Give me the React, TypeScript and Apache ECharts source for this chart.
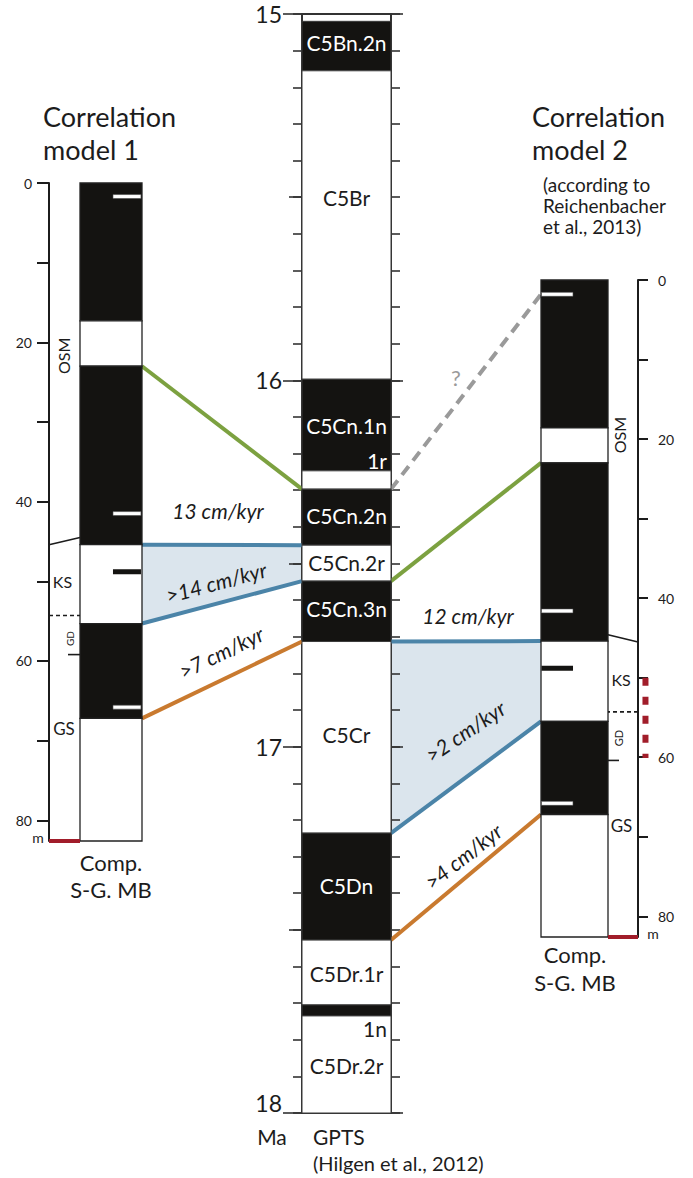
import React, { useEffect, useRef } from 'react';
import * as echarts from 'echarts';

const FONT = 'Lato, "Open Sans", "DejaVu Sans", sans-serif';
const BLACK = '#141311';
const INK = '#1c1c1c';
const GREEN = '#7ca140';
const ORANGE = '#c97a2f';
const BLUE = '#4b84a8';
const BAND = '#dbe5ed';
const GREY = '#9a9a9a';
const RED = '#a11d2a';

// ---------------- data ----------------
// GPTS (Ma)
const gptsAxisMin = 15;
const gptsAxisMax = 18;
const gptsIntegerTicks = [15, 16, 17, 18];
const gptsHalfTicks = [15.5, 16.5, 17.5];
const chronLabels = ['C5Bn.2n', 'C5Br', 'C5Cn.1n', '1r', 'C5Cn.2n', 'C5Cn.2r', 'C5Cn.3n', 'C5Cr', 'C5Dn', 'C5Dr.1r', '1n', 'C5Dr.2r'];
const chronTops = [15.02, 15.155, 15.997, 16.247, 16.297, 16.45, 16.548, 16.713, 17.236, 17.528, 17.705, 17.735];
const chronBases = [15.155, 15.997, 16.247, 16.297, 16.45, 16.548, 16.713, 17.236, 17.528, 17.705, 17.735, 18.0];
const chronNormal = [1, 0, 1, 0, 1, 0, 1, 0, 1, 0, 1, 0];
const chronLabelAges = [15.079, 15.5, 16.122, 16.218, 16.368, 16.496, 16.622, 16.968, 17.378, 17.618, 17.768, 17.869];
const chronLabelAside = [0, 0, 0, 1, 0, 0, 0, 0, 0, 0, 1, 0];

// composite section (m)
const depthTicks = [0, 10, 20, 30, 40, 50, 60, 70, 80];
const depthLabels = [0, 20, 40, 60, 80];
const sectionBase = 82.6;

const model1ZoneTops = [0, 17.3, 23.0, 45.4, 55.3, 67.2];
const model1ZoneBases = [17.3, 23.0, 45.4, 55.3, 67.2, 82.6];
const model2ZoneTops = [0, 18.6, 23.0, 45.4, 55.5, 67.2];
const model2ZoneBases = [18.6, 23.0, 45.4, 55.5, 67.2, 82.6];
const zoneNormal = [1, 0, 1, 0, 1, 0];

const model1SampleDepths = [1.7, 41.5, 65.8, 48.8];
const model2SampleDepths = [1.8, 41.6, 65.8, 48.8];
const sampleReversed = [1, 1, 1, 0];

const formationNames = ['OSM', 'KS', 'GD', 'GS'];
const model1FormationDepths = [21.7, 50.0, 57.2, 68.5];
const model2FormationDepths = [19.5, 50.2, 57.6, 68.6];

const boundaryNames = ['OSM/KS', 'KS/GD', 'GD/GS'];
const model1BoundaryAxisDepths = [45.4, 54.3, 59.2];
const model1BoundaryColumnDepths = [44.5, 54.3, 59.2];
const model2BoundaryAxisDepths = [45.5, 54.3, 60.4];
const model2BoundaryColumnDepths = [44.6, 54.3, 60.4];
const model2RedInterval = [50.0, 60.1];

// correlations
const model1TieDepths = [23.0, 67.2];
const model1TieAges = [16.297, 16.713];
const model1BandDepths = [45.4, 55.3];
const model1BandAges = [16.45, 16.548];
const model2TieDepths = [1.8, 23.0, 67.2];
const model2TieAges = [16.297, 16.548, 17.528];
const model2BandDepths = [45.4, 55.5];
const model2BandAges = [16.713, 17.236];

const rateLabels = ['13 cm/kyr', '>14 cm/kyr', '>7 cm/kyr', '12 cm/kyr', '>2 cm/kyr', '>4 cm/kyr'];

// ---------------- layout ----------------
const LEFT_COL_X0 = 31 / 93; // formation strip | column split (left model)
const RIGHT_COL_X1 = 67 / 97; // column | strip split (right model)
const LEFT_SAMPLE_X = [0.688, 0.989];
const RIGHT_SAMPLE_X = [0.005, 0.33];
const LEFT_FORM_X = [0.161, 0.145, 0.226, 0.161];
const RIGHT_FORM_X = [0.814, 0.825, 0.794, 0.83];
const FORM_VERTICAL = [1, 0, 1, 0];
const LEFT_FORM_SIZE = [16, 16, 10, 17];
const RIGHT_FORM_SIZE = [16, 16, 11, 17];
const LEFT_TICK_X = 0.204;
const RIGHT_TICK_X = 0.804;
const RED_DASH_X = 1.077;
const RATE_POS: number[][] = [
  [218, 510, 0],
  [216, 582, 15],
  [221, 652, 26],
  [468, 615, 0],
  [465, 731, 34],
  [463, 856, 38],
];

const txt = (
  text: string,
  x: number,
  y: number,
  size: number,
  opts: { align?: string; color?: string; italic?: boolean; rot?: number; vAlign?: string } = {}
) => ({
  type: 'text',
  x,
  y,
  rotation: ((opts.rot || 0) * Math.PI) / 180,
  z: 20,
  silent: true,
  style: {
    text,
    fill: opts.color || INK,
    font: `${opts.italic ? 'italic ' : ''}${size}px ${FONT}`,
    align: opts.align || 'left',
    textAlign: opts.align || 'left',
    verticalAlign: opts.vAlign || 'middle',
    textVerticalAlign: opts.vAlign || 'middle',
  },
});

const rectBetween = (a: number[], b: number[]) => ({
  x: Math.min(a[0], b[0]),
  y: Math.min(a[1], b[1]),
  width: Math.abs(b[0] - a[0]),
  height: Math.abs(b[1] - a[1]),
});

function zoneSeries(xIdx: number, yIdx: number, tops: number[], bases: number[], x0: number, x1: number) {
  return {
    type: 'custom',
    xAxisIndex: xIdx,
    yAxisIndex: yIdx,
    silent: true,
    z: 3,
    data: tops.map((t, i) => [t, bases[i]]),
    renderItem: (params: any, api: any) => {
      const i = params.dataIndex;
      const a = api.coord([x0, tops[i]]);
      const b = api.coord([x1, bases[i]]);
      return {
        type: 'rect',
        shape: rectBetween(a, b),
        style: { fill: zoneNormal[i] ? BLACK : '#ffffff', stroke: '#222', lineWidth: 1.3 },
      };
    },
  };
}

function sampleSeries(xIdx: number, yIdx: number, depths: number[], xr: number[]) {
  return {
    type: 'custom',
    xAxisIndex: xIdx,
    yAxisIndex: yIdx,
    silent: true,
    z: 4,
    data: depths.map((d) => [d]),
    renderItem: (params: any, api: any) => {
      const i = params.dataIndex;
      const a = api.coord([xr[0], depths[i]]);
      const b = api.coord([xr[1], depths[i]]);
      const rev = sampleReversed[i] === 1;
      const h = rev ? 4 : 5;
      return {
        type: 'rect',
        shape: { x: a[0], y: a[1] - h / 2, width: b[0] - a[0], height: h },
        style: rev ? { fill: '#ffffff', stroke: '#444', lineWidth: 0.6 } : { fill: BLACK },
      };
    },
  };
}

function formationSeries(xIdx: number, yIdx: number, depths: number[], xs: number[], sizes: number[]) {
  return {
    type: 'custom',
    xAxisIndex: xIdx,
    yAxisIndex: yIdx,
    silent: true,
    z: 4,
    data: depths.map((d) => [d]),
    renderItem: (params: any, api: any) => {
      const i = params.dataIndex;
      const p = api.coord([xs[i], depths[i]]);
      return {
        type: 'text',
        x: p[0],
        y: p[1],
        rotation: FORM_VERTICAL[i] ? Math.PI / 2 : 0,
        style: {
          text: formationNames[i],
          fill: INK,
          font: `${sizes[i]}px ${FONT}`,
          align: 'center',
          textAlign: 'center',
          verticalAlign: 'middle',
          textVerticalAlign: 'middle',
        },
      };
    },
  };
}

function boundarySeries(
  xIdx: number,
  yIdx: number,
  axisDepths: number[],
  colDepths: number[],
  axisX: number,
  colX: number,
  tickX: number
) {
  return {
    type: 'custom',
    xAxisIndex: xIdx,
    yAxisIndex: yIdx,
    silent: true,
    z: 4,
    data: boundaryNames.map((_, i) => [axisDepths[i], colDepths[i]]),
    renderItem: (params: any, api: any) => {
      const i = params.dataIndex;
      const startX = i === 2 ? tickX : axisX;
      const a = api.coord([startX, i === 2 ? colDepths[i] : axisDepths[i]]);
      const b = api.coord([colX, colDepths[i]]);
      return {
        type: 'line',
        shape: { x1: a[0], y1: a[1], x2: b[0], y2: b[1] },
        style: { stroke: INK, lineWidth: 1.6, lineDash: i === 1 ? [4, 3] : null },
      };
    },
  };
}

function baseSeries(xIdx: number, yIdx: number, x0: number, x1: number, withRed: boolean) {
  const items: number[][] = [[sectionBase, sectionBase]];
  if (withRed) items.push([model2RedInterval[0], model2RedInterval[1]]);
  return {
    type: 'custom',
    xAxisIndex: xIdx,
    yAxisIndex: yIdx,
    silent: true,
    z: 5,
    data: items,
    renderItem: (params: any, api: any) => {
      const i = params.dataIndex;
      if (i === 0) {
        const a = api.coord([x0, sectionBase]);
        const b = api.coord([x1, sectionBase]);
        return { type: 'line', shape: { x1: a[0], y1: a[1], x2: b[0], y2: b[1] }, style: { stroke: RED, lineWidth: 4 } };
      }
      const a = api.coord([RED_DASH_X, model2RedInterval[0]]);
      const b = api.coord([RED_DASH_X, model2RedInterval[1]]);
      return {
        type: 'line',
        shape: { x1: a[0], y1: a[1], x2: b[0], y2: b[1] },
        style: { stroke: RED, lineWidth: 6, lineDash: [8, 11] },
      };
    },
  };
}

const depthAxis = (gridIndex: number, position: string, tickLen: number, margin: number) => ({
  type: 'value',
  gridIndex,
  position,
  min: 0,
  max: sectionBase,
  inverse: true,
  axisLine: { show: true, onZero: false, lineStyle: { color: INK, width: 2 } },
  axisTick: { show: true, length: tickLen, customValues: depthTicks, lineStyle: { color: INK, width: 2 } },
  axisLabel: { show: true, customValues: depthLabels, margin, fontSize: 14, color: INK, fontFamily: FONT },
  splitLine: { show: false },
});

const gptsAxis = (position: string, opts: any) => ({
  type: 'value',
  gridIndex: 1,
  position,
  min: gptsAxisMin,
  max: gptsAxisMax,
  inverse: true,
  splitLine: { show: false },
  axisLine: { show: !!opts.line, onZero: false, lineStyle: { color: '#333', width: 2 } },
  axisTick: {
    show: true,
    length: opts.len,
    lineStyle: { color: '#333', width: 1.6 },
    ...(opts.values ? { customValues: opts.values } : {}),
  },
  axisLabel: opts.labels
    ? {
        show: true,
        customValues: gptsIntegerTicks,
        margin: 20,
        color: INK,
        fontFamily: FONT,
        fontSize: 23,
        formatter: (v: number) => (v === gptsAxisMax ? `{up|${v}}` : `{n|${v}}`),
        rich: {
          n: { fontSize: 23, fontFamily: FONT, color: INK },
          up: { fontSize: 23, fontFamily: FONT, color: INK, padding: [0, 0, 20, 0] },
        },
      }
    : { show: false },
  ...(opts.interval ? { interval: opts.interval } : {}),
});

export default function App() {
  const ref = useRef<HTMLDivElement>(null);

  useEffect(() => {
    if (!ref.current) return;
    const chart = echarts.init(ref.current, undefined, { renderer: 'svg' });

    const option: any = {
      animation: false,
      backgroundColor: '#ffffff',
      grid: [
        { left: 49, top: 183, width: 93, height: 658 },
        { left: 302, top: 14, width: 89, height: 1099 },
        { left: 541, top: 280, width: 97, height: 657 },
      ],
      xAxis: [0, 1, 2].map((i) => ({ type: 'value', gridIndex: i, min: 0, max: 1, show: false })),
      yAxis: [
        depthAxis(0, 'left', 12, 17),
        gptsAxis('left', { line: true, len: 9, interval: 0.1 }),
        gptsAxis('left', { len: 13, values: gptsHalfTicks }),
        gptsAxis('left', { len: 19, values: gptsIntegerTicks, labels: true }),
        gptsAxis('right', { line: true, len: 9, interval: 0.1 }),
        gptsAxis('right', { len: 12, values: gptsIntegerTicks }),
        depthAxis(2, 'right', 10, 20),
      ],
      series: [
        // left model column
        zoneSeries(0, 0, model1ZoneTops, model1ZoneBases, LEFT_COL_X0, 1),
        sampleSeries(0, 0, model1SampleDepths, LEFT_SAMPLE_X),
        formationSeries(0, 0, model1FormationDepths, LEFT_FORM_X, LEFT_FORM_SIZE),
        boundarySeries(0, 0, model1BoundaryAxisDepths, model1BoundaryColumnDepths, 0, LEFT_COL_X0, LEFT_TICK_X),
        baseSeries(0, 0, 0, LEFT_COL_X0, false),
        // GPTS frame (top and base)
        {
          type: 'custom',
          xAxisIndex: 1,
          yAxisIndex: 1,
          silent: true,
          z: 2,
          data: [[gptsAxisMin], [gptsAxisMax]],
          renderItem: (params: any, api: any) => {
            const v = params.dataIndex === 0 ? gptsAxisMin : gptsAxisMax;
            const a = api.coord([0, v]);
            const b = api.coord([1, v]);
            return { type: 'line', shape: { x1: a[0], y1: a[1], x2: b[0], y2: b[1] }, style: { stroke: '#333', lineWidth: 2 } };
          },
        },
        // GPTS chrons
        {
          type: 'custom',
          xAxisIndex: 1,
          yAxisIndex: 1,
          silent: true,
          z: 3,
          data: chronTops.map((t, i) => [t, chronBases[i]]),
          renderItem: (params: any, api: any) => {
            const i = params.dataIndex;
            const a = api.coord([0, chronTops[i]]);
            const b = api.coord([1, chronBases[i]]);
            const normal = chronNormal[i] === 1;
            const aside = chronLabelAside[i] === 1;
            const onBlack = aside ? !normal : normal;
            const lp = api.coord([aside ? 0.955 : 0.5, chronLabelAges[i]]);
            return {
              type: 'group',
              children: [
                {
                  type: 'rect',
                  shape: rectBetween(a, b),
                  z2: 0,
                  style: { fill: normal ? BLACK : '#ffffff', stroke: '#3a3a3a', lineWidth: 1 },
                },
                {
                  type: 'text',
                  x: lp[0],
                  y: lp[1],
                  z2: 10,
                  style: {
                    text: chronLabels[i],
                    fill: onBlack ? '#ffffff' : INK,
                    font: `21px ${FONT}`,
                    align: aside ? 'right' : 'center',
                    textAlign: aside ? 'right' : 'center',
                    verticalAlign: 'middle',
                    textVerticalAlign: 'middle',
                  },
                },
              ],
            };
          },
        },
        // right model column
        zoneSeries(2, 6, model2ZoneTops, model2ZoneBases, 0, RIGHT_COL_X1),
        sampleSeries(2, 6, model2SampleDepths, RIGHT_SAMPLE_X),
        formationSeries(2, 6, model2FormationDepths, RIGHT_FORM_X, RIGHT_FORM_SIZE),
        boundarySeries(2, 6, model2BoundaryAxisDepths, model2BoundaryColumnDepths, 1, RIGHT_COL_X1, RIGHT_TICK_X),
        baseSeries(2, 6, RIGHT_COL_X1, 1, true),
      ],
    };

    chart.setOption(option);

    const L = (d: number) => chart.convertToPixel({ xAxisIndex: 0, yAxisIndex: 0 } as any, [1, d]) as number[];
    const GL = (a: number) => chart.convertToPixel({ xAxisIndex: 1, yAxisIndex: 1 } as any, [0, a]) as number[];
    const GR = (a: number) => chart.convertToPixel({ xAxisIndex: 1, yAxisIndex: 1 } as any, [1, a]) as number[];
    const R = (d: number) => chart.convertToPixel({ xAxisIndex: 2, yAxisIndex: 6 } as any, [0, d]) as number[];

    const seg = (p: number[], q: number[], color: string, dash?: number[]) => ({
      type: 'line',
      z: 1,
      silent: true,
      shape: { x1: p[0], y1: p[1], x2: q[0], y2: q[1] },
      style: { stroke: color, lineWidth: 4, lineDash: dash || null, lineCap: 'butt' },
    });

    const m1Top = [L(model1BandDepths[0]), GL(model1BandAges[0])];
    const m1Bot = [L(model1BandDepths[1]), GL(model1BandAges[1])];
    const m2Top = [GR(model2BandAges[0]), R(model2BandDepths[0])];
    const m2Bot = [GR(model2BandAges[1]), R(model2BandDepths[1])];

    const m1Colors = [GREEN, ORANGE];
    const m2Colors = [GREY, GREEN, ORANGE];

    const graphics: any[] = [
      {
        type: 'polygon',
        z: 0,
        silent: true,
        shape: { points: [m1Top[0], m1Top[1], m1Bot[1], m1Bot[0]] },
        style: { fill: BAND },
      },
      {
        type: 'polygon',
        z: 0,
        silent: true,
        shape: { points: [m2Top[0], m2Top[1], m2Bot[1], m2Bot[0]] },
        style: { fill: BAND },
      },
      seg(m1Top[0], m1Top[1], BLUE),
      seg(m1Bot[0], m1Bot[1], BLUE),
      seg(m2Top[0], m2Top[1], BLUE),
      seg(m2Bot[0], m2Bot[1], BLUE),
      ...model1TieDepths.map((d, i) => seg(L(d), GL(model1TieAges[i]), m1Colors[i])),
      ...model2TieDepths.map((d, i) =>
        seg(GR(model2TieAges[i]), R(d), m2Colors[i], i === 0 ? [11, 7] : undefined)
      ),
      // rate labels
      ...rateLabels.map((t, i) =>
        txt(t, RATE_POS[i][0], RATE_POS[i][1], 21, { align: 'center', italic: true, rot: RATE_POS[i][2] })
      ),
      txt('?', 456, 377, 22, { align: 'center', color: GREY }),
      // titles
      txt('Correlation', 43, 116, 27),
      txt('model 1', 43, 149, 27),
      txt('Correlation', 532, 116, 27),
      txt('model 2', 532, 149, 27),
      txt('(according to', 543, 184, 19),
      txt('Reichenbacher', 543, 205, 19),
      txt('et al., 2013)', 543, 226, 19),
      // column captions
      txt('Comp.', 111, 862, 22, { align: 'center' }),
      txt('S-G. MB', 111, 889, 22, { align: 'center' }),
      txt('Comp.', 575, 954, 22, { align: 'center' }),
      txt('S-G. MB', 575, 982, 22, { align: 'center' }),
      txt('m', 38, 837, 14, { align: 'center' }),
      txt('m', 653, 933, 14, { align: 'center' }),
      // GPTS captions
      txt('Ma', 272, 1136, 21, { align: 'center' }),
      txt('GPTS', 313, 1136, 21),
      txt('(Hilgen et al., 2012)', 313, 1163, 20),
    ];

    chart.setOption({ graphic: graphics });

    return () => {
      chart.dispose();
    };
  }, []);

  return (
    <div
      ref={ref}
      style={{ position: 'absolute', left: 0, top: 0, width: 693, height: 1178, background: '#fff' }}
    />
  );
}
